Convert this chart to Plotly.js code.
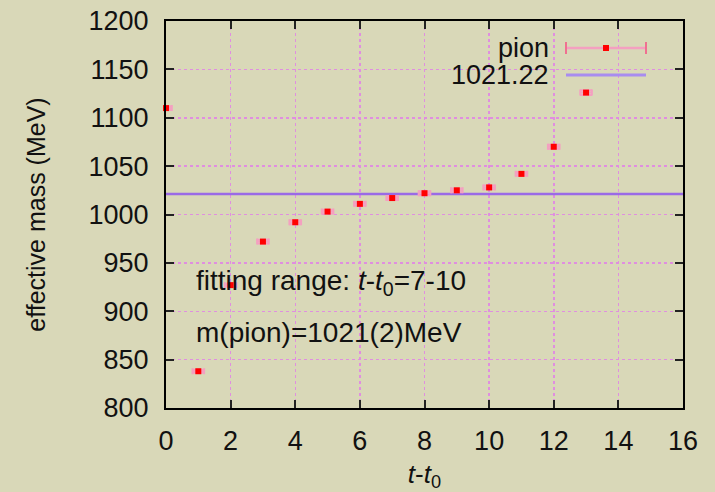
<!DOCTYPE html>
<html><head><meta charset="utf-8">
<script src="https://cdn.plot.ly/plotly-3.0.1.min.js"></script>
<style>body{margin:0;background:#d9d8b8}#c{width:715px;height:492px}</style>
</head><body><div id="c"></div>
<script>
const tValues = [0,1,2,3,4,5,6,7,8,9,10,11,12,13];
const massValues = [1110,838,927,972,992,1003,1011,1017,1022,1025,1028,1042,1070,1126];
const massErrors = [2,1.5,1.5,2,2,2,2,2,2,2,2,2,2,2.5];
const fitValue = 1021.22;
const fitRange = [0,16];
const xTicks = [0,2,4,6,8,10,12,14,16];
const yTicks = [800,850,900,950,1000,1050,1100,1150,1200];

const bg = '#d9d8b8';
const font = 'Liberation Sans, Arial, sans-serif';
const traces = [
  {x: fitRange, y: [fitValue, fitValue], mode:'lines', line:{color:'#9a6ae6', width:2.5}, showlegend:false, hoverinfo:'skip'},
  {x: tValues, y: massValues, mode:'markers', marker:{color:'#ff0000', size:6, symbol:'square'},
   error_y:{type:'data', array: massErrors, visible:true, color:'#f4a0c0', thickness:2, width:6},
   error_x:{type:'constant', value:0.18, visible:true, color:'#f4a0c0', thickness:2, width:3},
   showlegend:false, cliponaxis:false}
];
const axisCommon = {showline:true, mirror:'ticks', linecolor:'#000', linewidth:2, ticks:'inside', ticklen:8, tickcolor:'#222', tickwidth:2,
  showgrid:true, gridcolor:'#e08ee0', griddash:'dot', gridwidth:1.5, zeroline:false, tickfont:{family:font, size:27, color:'#111'}};
const layout = {
  width:715, height:492, paper_bgcolor:bg, plot_bgcolor:bg,
  margin:{l:166, r:32, t:21, b:84},
  xaxis: Object.assign({}, axisCommon, {range:[0,16], tickvals:xTicks, ticktext:xTicks.map(String), ticklabelstandoff:8,
    title:{text:'<i>t</i>-<i>t</i><sub>0</sub>', font:{family:font, size:26, color:'#111'}, standoff:22}}),
  yaxis: Object.assign({}, axisCommon, {range:[800,1200], tickvals:yTicks, ticktext:yTicks.map(String), ticklabelstandoff:10,
    title:{text:'effective mass (MeV)', font:{family:font, size:25, color:'#111'}, standoff:36}}),
  annotations:[
    {xref:'x', yref:'y', x:0.88, y:930, xanchor:'left', yanchor:'middle', text:'fitting range: <i>t</i>-<i>t</i><sub>0</sub>=7-10', showarrow:false, font:{family:font, size:28, color:'#111'}},
    {xref:'x', yref:'y', x:0.88, y:878, xanchor:'left', yanchor:'middle', text:'m(pion)=1021(2)MeV', showarrow:false, font:{family:font, size:28, color:'#111'}},
    {xref:'paper', yref:'paper', x:(551-166)/517, y:(408-48)/387, xanchor:'right', yanchor:'middle', text:'pion', showarrow:false, font:{family:font, size:27, color:'#111'}},
    {xref:'paper', yref:'paper', x:(551-166)/517, y:(408-75)/387, xanchor:'right', yanchor:'middle', text:'1021.22', showarrow:false, font:{family:font, size:27, color:'#111'}}
  ],
  shapes:[
    {type:'line', xref:'paper', yref:'paper', x0:(566-166)/517, x1:(646-166)/517, y0:(408-48)/387, y1:(408-48)/387, line:{color:'#f4a0c0', width:2.5}},
    {type:'line', xref:'paper', yref:'paper', x0:(566-166)/517, x1:(566-166)/517, y0:(408-42)/387, y1:(408-54)/387, line:{color:'#f07090', width:2}},
    {type:'line', xref:'paper', yref:'paper', x0:(646-166)/517, x1:(646-166)/517, y0:(408-42)/387, y1:(408-54)/387, line:{color:'#f07090', width:2}},
    {type:'rect', xref:'paper', yref:'paper', x0:(603-166)/517, x1:(609-166)/517, y0:(408-45)/387, y1:(408-51)/387, fillcolor:'#ff0000', line:{width:0}},
    {type:'line', xref:'paper', yref:'paper', x0:(566-166)/517, x1:(646-166)/517, y0:(408-75)/387, y1:(408-75)/387, line:{color:'#a88cf0', width:3}}
  ]
};
Plotly.newPlot('c', traces, layout, {staticPlot:true});
</script></body></html>
